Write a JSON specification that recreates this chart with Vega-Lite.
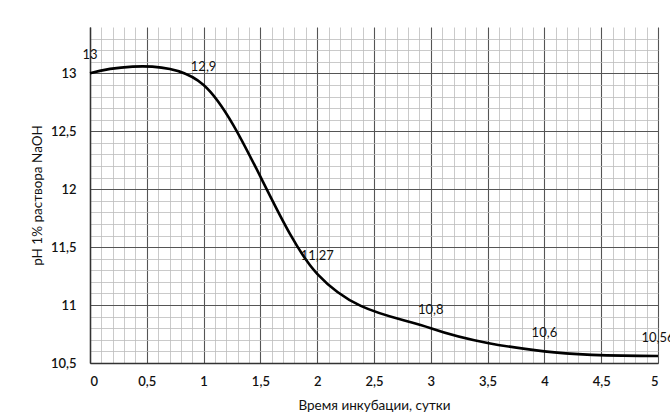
{
  "$schema": "https://vega.github.io/schema/vega-lite/v6.json",
  "width": 568,
  "height": 336,
  "autosize": {"type": "none"},
  "padding": {"left": 90, "top": 27, "right": 12, "bottom": 56},
  "background": "white",
  "config": {
    "view": {"stroke": null},
    "font": "Lato",
    "axis": {"labelFont": "Lato", "titleFont": "Lato", "labelColor": "#111", "titleColor": "#111", "titleFontWeight": "normal"}
  },
  "data": {
    "values": [
      {"day": 0, "ph": 13, "label": "13"},
      {"day": 1, "ph": 12.9, "label": "12,9"},
      {"day": 2, "ph": 11.27, "label": "11,27"},
      {"day": 3, "ph": 10.8, "label": "10,8"},
      {"day": 4, "ph": 10.6, "label": "10,6"},
      {"day": 5, "ph": 10.56, "label": "10,56"}
    ]
  },
  "layer": [
    {
      "mark": {"type": "line", "opacity": 0},
      "encoding": {
        "x": {"field": "day", "type": "quantitative", "scale": {"domain": [0, 5], "nice": false},
          "axis": {"orient": "bottom", "values": [0.1,0.2,0.3,0.4,0.6,0.7,0.8,0.9,1.1,1.2,1.3,1.4,1.6,1.7,1.8,1.9,2.1,2.2,2.3,2.4,2.6,2.7,2.8,2.9,3.1,3.2,3.3,3.4,3.6,3.7,3.8,3.9,4.1,4.2,4.3,4.4,4.6,4.7,4.8,4.9],
            "labels": false, "ticks": false, "domain": false, "title": null, "grid": true, "gridColor": "#bcbcbc", "gridWidth": 0.8}},
        "y": {"field": "ph", "type": "quantitative", "scale": {"domain": [10.5, 13.4], "nice": false, "zero": false},
          "axis": {"orient": "left", "values": [10.6,10.7,10.8,10.9,11.1,11.2,11.3,11.4,11.6,11.7,11.8,11.9,12.1,12.2,12.3,12.4,12.6,12.7,12.8,12.9,13.1,13.2,13.3],
            "labels": false, "ticks": false, "domain": false, "title": null, "grid": true, "gridColor": "#bcbcbc", "gridWidth": 0.8}}
      }
    },
    {
      "mark": {"type": "line", "interpolate": "cardinal", "color": "black", "strokeWidth": 2.6},
      "encoding": {
        "x": {"field": "day", "type": "quantitative", "scale": {"domain": [0, 5], "nice": false},
          "axis": {"orient": "bottom", "values": [0,0.5,1,1.5,2,2.5,3,3.5,4,4.5,5], "format": "~g", "labelExpr": "replace(datum.label, '.', ',')",
            "ticks": false, "domain": true, "domainColor": "#333", "domainWidth": 1.5, "grid": true, "gridColor": "#555", "gridWidth": 1.1,
            "labelFontSize": 13, "labelPadding": 12, "labelFontWeight": 600,
            "title": "Время инкубации, сутки", "titleFontSize": 13.5, "titlePadding": 10}},
        "y": {"field": "ph", "type": "quantitative", "scale": {"domain": [10.5, 13.4], "nice": false, "zero": false},
          "axis": {"orient": "left", "values": [10.5,11,11.5,12,12.5,13], "format": "~g", "labelExpr": "replace(datum.label, '.', ',')",
            "ticks": false, "domain": true, "domainColor": "#333", "domainWidth": 1.5, "grid": true, "gridColor": "#555", "gridWidth": 1.1,
            "labelFontSize": 13, "labelPadding": 14, "labelFontWeight": 600,
            "title": "pH 1% раствора NaOH", "titleFontSize": 13.5, "titlePadding": 6}}
      }
    },
    {
      "mark": {"type": "text", "fontSize": 13, "baseline": "middle", "align": "center", "dy": -18, "color": "#111", "font": "Lato"},
      "encoding": {
        "x": {"field": "day", "type": "quantitative", "scale": {"domain": [0, 5], "nice": false}, "axis": null},
        "y": {"field": "ph", "type": "quantitative", "scale": {"domain": [10.5, 13.4], "nice": false, "zero": false}, "axis": null},
        "text": {"field": "label"}
      }
    }
  ],
  "resolve": {"scale": {"x": "independent", "y": "independent"}, "axis": {"x": "independent", "y": "independent"}}
}
